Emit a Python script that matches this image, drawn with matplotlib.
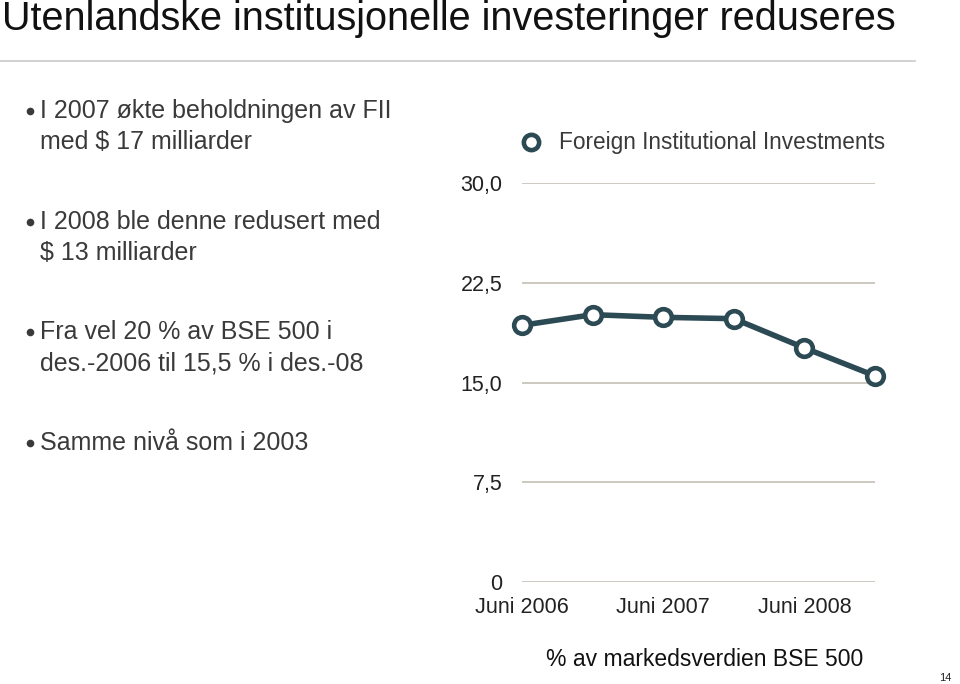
import matplotlib.pyplot as plt

# data
periods = ["Juni 2006", "Des 2006", "Juni 2007", "Des 2007", "Juni 2008", "Des 2008"]
fii_share = [19.3, 20.1, 19.9, 19.8, 17.6, 15.5]
y_ticks = [0, 7.5, 15, 22.5, 30]
y_ticklabels = ["0", "7,5", "15,0", "22,5", "30,0"]
x_tick_pos = [0, 2, 4]
x_ticklabels = ["Juni 2006", "Juni 2007", "Juni 2008"]

bullets = [
    "I 2007 økte beholdningen av FII\nmed $ 17 milliarder",
    "I 2008 ble denne redusert med\n$ 13 milliarder",
    "Fra vel 20 % av BSE 500 i\ndes.-2006 til 15,5 % i des.-08",
    "Samme nivå som i 2003",
]
bullet_y = [110, 221, 331, 442]

plt.rcParams["font.family"] = ["Liberation Sans", "DejaVu Sans"]

W, H = 960, 684
fig = plt.figure(figsize=(9.6, 6.84), dpi=100)
line_col = "#2c4a54"
text_col = "#3a3a3a"

def fx(px):
    return px / W

def fy(py):
    return 1 - py / H

# title and rule
fig.text(fx(2), fy(30), "Utenlandske institusjonelle investeringer reduseres",
         fontsize=28.5, color="#111111", va="baseline", ha="left")
fig.add_artist(plt.Line2D([0, fx(915)], [fy(61), fy(61)], color="#c9c9c9", lw=1.2))

# bullets
for txt, yy in zip(bullets, bullet_y):
    fig.add_artist(plt.Line2D([fx(30)], [fy(yy + 1)], marker="o", markersize=5.5,
                              color=text_col, markeredgewidth=0))
    fig.text(fx(40), fy(yy - 11), txt, fontsize=18, color=text_col, va="top", ha="left",
             linespacing=1.38, parse_math=False)

# chart
ax = fig.add_axes([fx(522), fy(582), fx(875) - fx(522), fy(183) - fy(582)])
for yt in y_ticks:
    ax.axhline(yt, color="#c9c4bb", lw=1.3, zorder=1)
ax.plot(range(len(fii_share)), fii_share, color=line_col, lw=4, marker="o",
        markersize=12, markerfacecolor="white", markeredgecolor=line_col,
        markeredgewidth=3.3, clip_on=False, zorder=3)
ax.set_xlim(0, 5)
ax.set_ylim(0, 30)
ax.set_yticks(y_ticks)
ax.set_yticklabels(y_ticklabels, fontsize=15.5, color="#222222")
ax.set_xticks(x_tick_pos)
ax.set_xticklabels(x_ticklabels, fontsize=15.5, color="#222222")
ax.tick_params(length=0, axis="y", pad=14)
ax.tick_params(length=0, axis="x", pad=11)
for s in ax.spines.values():
    s.set_visible(False)
ax.patch.set_alpha(0)

# legend
fig.add_artist(plt.Line2D([fx(531)], [fy(142)], marker="o", markersize=11,
                          markerfacecolor="white", markeredgecolor=line_col, markeredgewidth=3.3))
fig.text(fx(559), fy(142), "Foreign Institutional Investments", fontsize=16.3,
         color=text_col, va="center", ha="left")

fig.text(fx(705), fy(659), "% av markedsverdien BSE 500", fontsize=16.5,
         color="#111111", va="center", ha="center")
fig.text(fx(945), fy(678), "14", fontsize=8, color="#222222", va="center", ha="center")

fig.savefig("out.png", dpi=100)
